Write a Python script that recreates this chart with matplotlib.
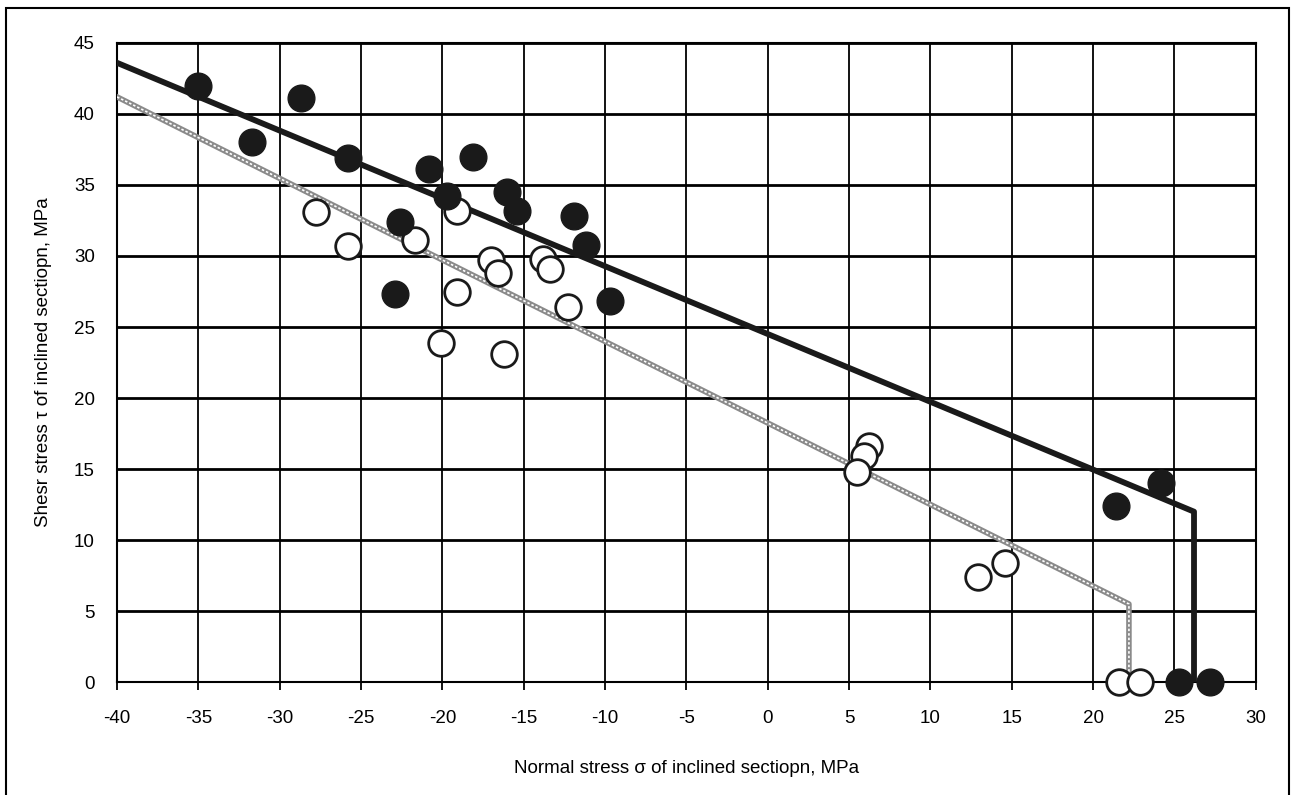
import matplotlib
matplotlib.use("Agg")
import matplotlib.pyplot as plt
from matplotlib.patches import Rectangle

plt.rcParams["font.family"] = ["Liberation Sans", "DejaVu Sans"]
plt.rcParams["axes.unicode_minus"] = False  # 用连字符作负号

# 实心点
filled_x = [-35.0, -28.7, -31.7, -25.8, -22.6, -22.9, -20.8, -18.1, -19.7, -16.0,
            -15.4, -11.9, -11.2, -9.7, 21.4, 24.2, 25.3, 27.2]
filled_y = [42.0, 41.1, 38.0, 36.9, 32.4, 27.3, 36.1, 37.0, 34.2, 34.5,
            33.2, 32.8, 30.8, 26.8, 12.4, 14.0, 0.0, 0.0]

# 空心点
open_x = [-27.8, -25.8, -19.1, -21.7, -17.0, -16.6, -13.8, -13.4, -19.1, -12.3,
          -20.1, -16.2, 6.2, 5.9, 5.5, 14.6, 12.9, 21.6, 22.9]
open_y = [33.1, 30.7, 33.2, 31.1, 29.7, 28.8, 29.8, 29.1, 27.5, 26.4,
          23.9, 23.1, 16.6, 15.9, 14.8, 8.4, 7.4, 0.0, 0.0]

# 包络线
black_x = [-40, 26.2, 26.2]
black_y = [43.6, 12.0, 0.0]
gray_x = [-40, 22.2, 22.2]
gray_y = [41.2, 5.5, 0.0]

fig = plt.figure(figsize=(12.92, 7.95), dpi=100)
ax = fig.add_axes([0.0906, 0.142, 0.972 - 0.0906, 0.946 - 0.142])

# 外框
fig.patches.append(Rectangle((0.005, -0.01), 0.993, 1.0, transform=fig.transFigure,
                             fill=False, edgecolor="black", linewidth=1.5))

ax.grid(True, axis="y", color="black", linewidth=2.0)
ax.grid(True, axis="x", color="black", linewidth=1.3)
ax.set_axisbelow(True)

ax.plot(black_x, black_y, color="#1a1a1a", linewidth=4.2, zorder=3)
ax.plot(gray_x, gray_y, color="#8a8a8a", linewidth=4.0, zorder=3)
ax.plot(gray_x, gray_y, color="white", linewidth=1.2, dashes=(1.5, 1.2), zorder=3)

ax.scatter(open_x, open_y, s=340, facecolors="white", edgecolors="#1a1a1a",
           linewidths=2.0, zorder=4, clip_on=False)
ax.scatter(filled_x, filled_y, s=370, color="#1a1a1a", zorder=5, clip_on=False)

ax.set_xlim(-40, 30)
ax.set_ylim(0, 45)
ax.set_xticks(range(-40, 31, 5))
ax.set_yticks(range(0, 46, 5))
ax.tick_params(axis="x", direction="out", length=6, width=1.3, pad=14, labelsize=13.5)
ax.tick_params(axis="y", length=0, pad=16, labelsize=13.5)
for s in ax.spines.values():
    s.set_linewidth(1.5)

ax.set_xlabel("Normal stress σ of inclined sectiopn, MPa", fontsize=13.5, labelpad=24)
ax.set_ylabel("Shesr stress τ of inclined sectiopn, MPa", fontsize=13.5, labelpad=16)

fig.savefig("out.png", dpi=100)
